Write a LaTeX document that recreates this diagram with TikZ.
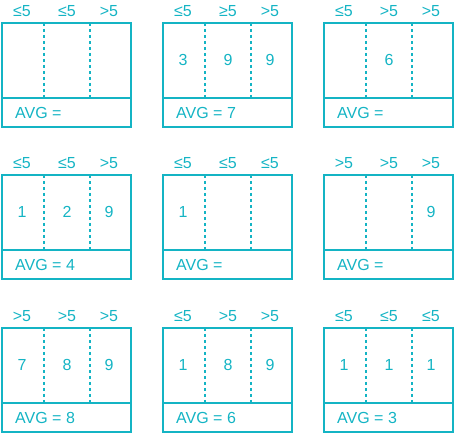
\documentclass[tikz,border=0pt]{standalone}
\usepackage{fontspec}
\setmainfont{Liberation Sans}
\definecolor{tbteal}{RGB}{20,180,196}
\tikzstyle{frame} = [draw=tbteal, line width=2.2pt]
\tikzstyle{sep} = [draw=tbteal, line width=2.2pt, dash pattern=on 3pt off 3pt]
\tikzstyle{lbl} = [text=tbteal, font={\fontsize{16}{18}\selectfont}, inner sep=0pt]
\tikzstyle{num} = [lbl]
\tikzstyle{avg} = [lbl, anchor=west]

% one panel: name, three heads, three values, average
\newcommand{\panel}[8]{%
  \draw[frame] (0,0) rectangle (129,104);
  \draw[frame] (0,75) -- (129,75);
  \draw[sep] (42,0) -- (42,75);
  \draw[sep] (88,0) -- (88,75);
  \node[lbl](#1h1) at (20,-12){#2};
  \node[lbl](#1h2) at (65,-12){#3};
  \node[lbl](#1h3) at (107,-12){#4};
  \node[num](#1v1) at (20,37){#5};
  \node[num](#1v2) at (65,37){#6};
  \node[num](#1v3) at (107,37){#7};
  \node[avg](#1avg) at (13,90){AVG = #8};
}

\begin{document}
\begin{tikzpicture}[x=1pt, y=-1pt]
    \useasboundingbox (0,0) rectangle (456,433);
    \begin{scope}[shift={(2,23)}]   \panel{a}{≤5}{≤5}{>5}{}{}{}{} \end{scope}
    \begin{scope}[shift={(163,23)}] \panel{b}{≤5}{≥5}{>5}{3}{9}{9}{7} \end{scope}
    \begin{scope}[shift={(324,23)}] \panel{c}{≤5}{>5}{>5}{}{6}{}{} \end{scope}
    \begin{scope}[shift={(2,175)}]  \panel{d}{≤5}{≤5}{>5}{1}{2}{9}{4} \end{scope}
    \begin{scope}[shift={(163,175)}] \panel{e}{≤5}{≤5}{≤5}{1}{}{}{} \end{scope}
    \begin{scope}[shift={(324,175)}] \panel{f}{>5}{>5}{>5}{}{}{9}{} \end{scope}
    \begin{scope}[shift={(2,328)}]  \panel{g}{>5}{>5}{>5}{7}{8}{9}{8} \end{scope}
    \begin{scope}[shift={(163,328)}] \panel{h}{≤5}{>5}{>5}{1}{8}{9}{6} \end{scope}
    \begin{scope}[shift={(324,328)}] \panel{i}{≤5}{≤5}{≤5}{1}{1}{1}{3} \end{scope}
  \end{tikzpicture}
\end{document}
